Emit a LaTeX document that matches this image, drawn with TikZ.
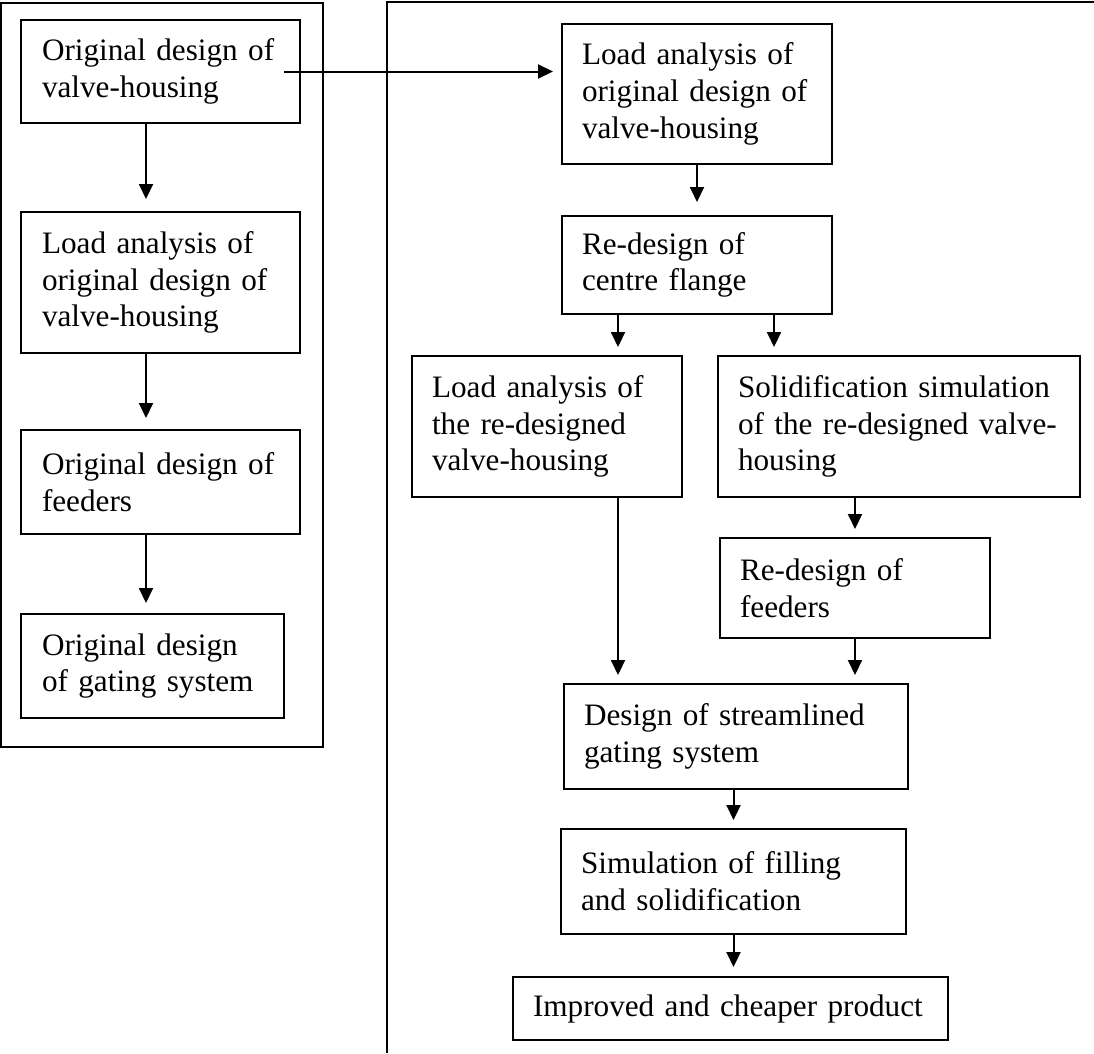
\documentclass[tikz,border=0pt]{standalone}
\usepackage{fontspec}
\setmainfont{Liberation Serif}
\usetikzlibrary{arrows.meta}

\tikzset{
	box/.style={draw, line width=2pt, anchor=north west, align=left, inner xsep=20pt, inner ysep=0pt},
	leftbox/.style={box, inner xsep=21pt},
	flow/.style={line width=2pt, -{Triangle[width=14pt,length=15pt]}, shorten >=8pt},
	frame/.style={line width=2pt}
}

\begin{document}
\begin{tikzpicture}[x=1pt, y=-1pt, font=\fontsize{31.2}{36.7}\selectfont]
		\useasboundingbox (0,0) rectangle (1094,1053);
		
		% Frames
		\draw[frame] (1,3) rectangle (323,747);
		\draw[frame] (1094,2) -- (387,2) -- (387,1053);
		
		% Left column
		\node[leftbox, text width=237pt, minimum height=103pt] (orig) at (20,19) {Original design of\\valve-housing};
		\node[leftbox, text width=237pt, minimum height=141pt] (loadorig) at (20,211) {Load analysis of\\original design of\\valve-housing};
		\node[leftbox, text width=237pt, minimum height=104pt] (feedorig) at (20,429) {Original design of\\feeders};
		\node[leftbox, text width=221pt, minimum height=104pt] (gateorig) at (20,613) {Original design\\of gating system};
		
		% Right column
		\node[box, text width=230pt, minimum height=140pt] (loadana) at (561,23) {Load analysis of\\original design of\\valve-housing};
		\node[box, text width=230pt, minimum height=98pt] (flange) at (561,215) {Re-design of\\centre flange};
		\node[box, text width=230pt, minimum height=141pt] (loadnew) at (411,355) {Load analysis of\\the re-designed\\valve-housing};
		\node[box, text width=322pt, minimum height=141pt] (solidsim) at (717,355) {Solidification simulation\\of the re-designed valve-\\housing};
		\node[box, text width=230pt, minimum height=100pt] (feednew) at (719,537) {Re-design of\\feeders};
		\node[box, text width=304pt, minimum height=105pt] (gatenew) at (563,683) {Design of streamlined\\gating system};
		\node[box, text width=305pt, minimum height=105pt] (fillsim) at (560,828) {Simulation of filling\\and solidification};
		\node[box, text width=395pt, minimum height=63pt] (product) at (512,976) {Improved and cheaper product};
		
		% Arrows
		\coordinate (ax) at (146,0);
		\coordinate (bx) at (618,0);
		\coordinate (cx) at (774,0);
		
		\draw[flow, shorten >=12pt] (orig.south -| ax) -- (loadorig.north -| ax);
		\draw[flow, shorten >=11pt] (loadorig.south -| ax) -- (feedorig.north -| ax);
		\draw[flow, shorten >=10pt] (feedorig.south -| ax) -- (gateorig.north -| ax);
		
		\draw[flow] ([xshift=-17pt]orig.east) -- (orig.east -| loadana.west);
		
		\draw[flow, shorten >=13pt] (loadana.south) -- (flange.north);
		\draw[flow] (flange.south -| bx) -- (loadnew.north -| bx);
		\draw[flow] (flange.south -| cx) -- (solidsim.north -| cx);
		\draw[flow] (solidsim.south -| feednew.north) -- (feednew.north);
		\draw[flow] (loadnew.south -| bx) -- (gatenew.north -| bx);
		\draw[flow] (feednew.south) -- (feednew.south |- gatenew.north);
		\draw[flow] (gatenew.south -| fillsim.north) -- (fillsim.north);
		\draw[flow, shorten >=9pt] (fillsim.south) -- (fillsim.south |- product.north);
		
	\end{tikzpicture}
\end{document}
